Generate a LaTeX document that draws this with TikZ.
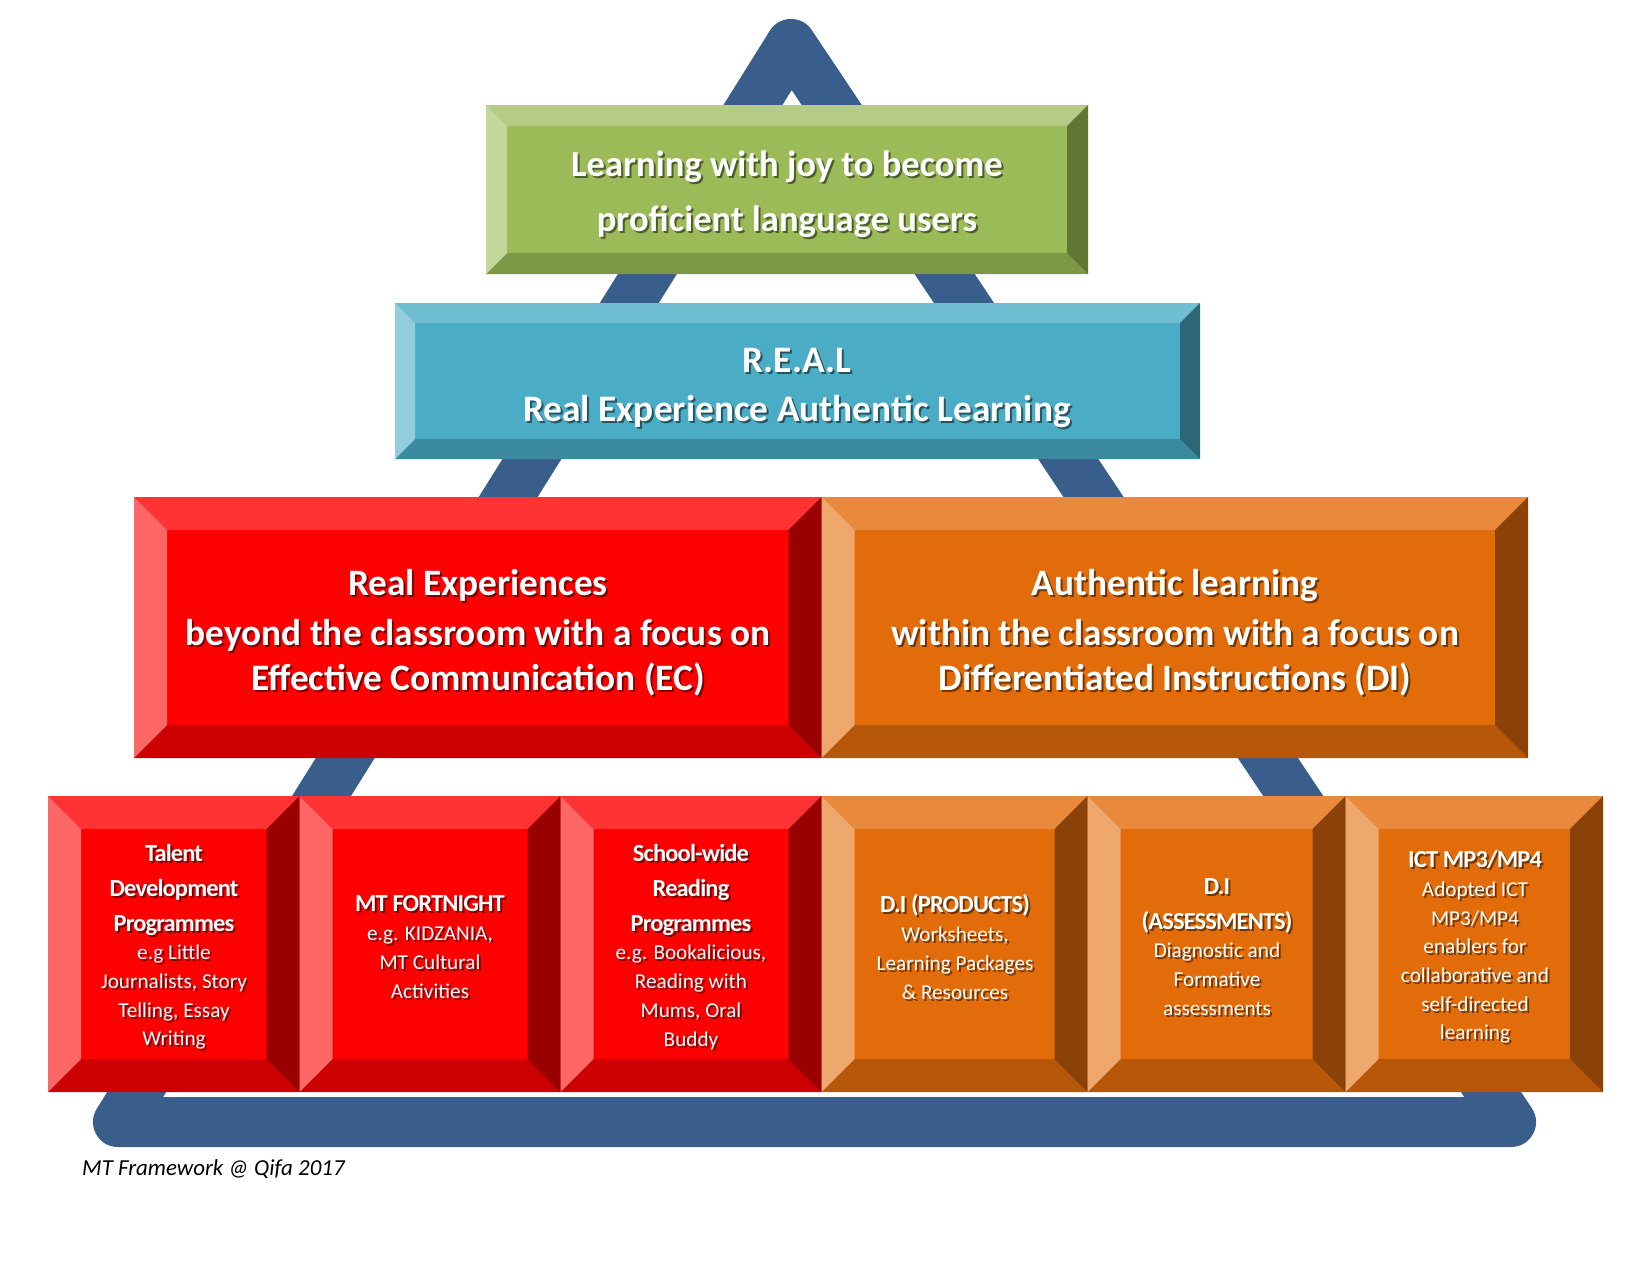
\documentclass[tikz,border=0pt]{standalone}
\usepackage{fontspec}
\setmainfont{Carlito}
\begin{document}
\begin{tikzpicture}[x=1pt,y=-1pt]
% palette
\definecolor{tri}{RGB}{58,94,139}
\definecolor{gF}{RGB}{155,187,89}\definecolor{gT}{RGB}{180,204,133}\definecolor{gL}{RGB}{196,215,155}\definecolor{gB}{RGB}{124,151,70}\definecolor{gR}{RGB}{96,118,50}
\definecolor{bF}{RGB}{75,172,198}\definecolor{bT}{RGB}{111,189,209}\definecolor{bL}{RGB}{147,205,221}\definecolor{bB}{RGB}{60,138,159}\definecolor{bR}{RGB}{45,103,119}
\definecolor{rF}{RGB}{255,0,0}\definecolor{rT}{RGB}{255,51,51}\definecolor{rL}{RGB}{255,102,102}\definecolor{rB}{RGB}{204,0,0}\definecolor{rR}{RGB}{153,0,0}
\definecolor{oF}{RGB}{227,108,10}\definecolor{oT}{RGB}{232,137,60}\definecolor{oL}{RGB}{238,167,108}\definecolor{oB}{RGB}{183,87,9}\definecolor{oR}{RGB}{139,66,9}
\tikzset{
  maintext/.style={text=white, align=center, inner sep=0pt},
  shadowtext/.style={text=black, text opacity=0.5, align=center, inner sep=0pt},
  frame/.style={draw=tri, line width=50pt, line join=round}
}
% bevelled block: x1 y1 x2 y2 bevel colour-prefix
\newcommand\bevelbox[6]{%
  \fill[#6F] (#1,#2) rectangle (#3,#4);
  \fill[#6T] (#1,#2) -- (#3,#2) -- ({#3-#5},{#2+#5}) -- ({#1+#5},{#2+#5}) -- cycle;
  \fill[#6B] (#1,#4) -- (#3,#4) -- ({#3-#5},{#4-#5}) -- ({#1+#5},{#4-#5}) -- cycle;
  \fill[#6L] (#1,#2) -- ({#1+#5},{#2+#5}) -- ({#1+#5},{#4-#5}) -- (#1,#4) -- cycle;
  \fill[#6R] (#3,#2) -- ({#3-#5},{#2+#5}) -- ({#3-#5},{#4-#5}) -- (#3,#4) -- cycle;
}
% white text with a soft drop shadow: name, x,y, font, text
\newcommand\shnode[4]{%
  \node[shadowtext, font=#3] at ([shift={(2,2)}]#2) {#4};
  \node[maintext, font=#3] (#1) at (#2) {#4};
}
\newcommand\ttl[1]{{\fontsize{24.5}{29}\selectfont\bfseries\addfontfeatures{LetterSpace=-3.5}#1}}

\useasboundingbox (0,0) rectangle (1650,1275);
\fill[white] (0,0) rectangle (1650,1275);

% triangular frame behind the blocks
\coordinate (apex) at (791,44);
\coordinate (bl) at (118,1122);
\coordinate (br) at (1511,1122);
\draw[frame] (apex) -- (br) -- (bl) -- cycle;

% top, middle and pillar blocks
\bevelbox{486}{105}{1088}{274}{21}{g}
\bevelbox{395}{303}{1200}{459}{20}{b}
\bevelbox{134}{497}{821.5}{758}{33}{r}
\bevelbox{821.5}{497}{1528}{758}{33}{o}

% foundation blocks
\bevelbox{48}{796}{299.5}{1092}{33}{r}
\bevelbox{299.5}{796}{560.5}{1092}{33}{r}
\bevelbox{560.5}{796}{821.5}{1092}{33}{r}
\bevelbox{821.5}{796}{1087.5}{1092}{33}{o}
\bevelbox{1087.5}{796}{1345.5}{1092}{33}{o}
\bevelbox{1345.5}{796}{1603}{1092}{33}{o}

% texts
\shnode{goal}{787,194}{\fontsize{36.6}{55}\selectfont\bfseries}{Learning with joy to become\\proficient language users}
\shnode{real}{797,388}{\fontsize{37.4}{49.5}\selectfont\bfseries}{R.E.A.L\\Real Experience Authentic Learning}
\shnode{rex}{478,633}{\fontsize{37.3}{45.5}\selectfont\bfseries}{Real Experiences\\[4pt]beyond the classroom with a focus on\\Effective Communication (EC)}
\shnode{aul}{1175,633}{\fontsize{37.3}{45.5}\selectfont\bfseries}{Authentic learning\\[4pt]within the classroom with a focus on\\Differentiated Instructions (DI)}

\shnode{t1}{174,947}{\fontsize{21.2}{28.7}\selectfont}{\ttl{Talent}\\[6pt]\ttl{Development}\\[6pt]\ttl{Programmes}\\e.g Little\\Journalists, Story\\Telling, Essay\\Writing}
\shnode{t2}{430,947}{\fontsize{21.2}{28.7}\selectfont}{\ttl{MT FORTNIGHT}\\e.g. KIDZANIA,\\MT Cultural\\Activities}
\shnode{t3}{691,947}{\fontsize{21.2}{28.7}\selectfont}{\ttl{School-wide}\\[6pt]\ttl{Reading}\\[6pt]\ttl{Programmes}\\e.g. Bookalicious,\\Reading with\\Mums, Oral\\Buddy}
\shnode{t4}{955,947}{\fontsize{21.2}{28.7}\selectfont}{\ttl{D.I (PRODUCTS)}\\Worksheets,\\Learning Packages\\\& Resources}
\shnode{t5}{1217,947}{\fontsize{21.2}{28.7}\selectfont}{\ttl{D.I}\\[6pt]\ttl{(ASSESSMENTS)}\\Diagnostic and\\Formative\\assessments}
\shnode{t6}{1475,947}{\fontsize{21.2}{28.7}\selectfont}{\ttl{ICT MP3/MP4}\\Adopted ICT\\MP3/MP4\\enablers for\\collaborative and\\self-directed\\learning}

\node[anchor=west, inner sep=0pt, font=\fontsize{22.9}{27}\selectfont\itshape] (credit) at (82,1169) {MT Framework @ Qifa 2017};
\end{tikzpicture}
\end{document}
